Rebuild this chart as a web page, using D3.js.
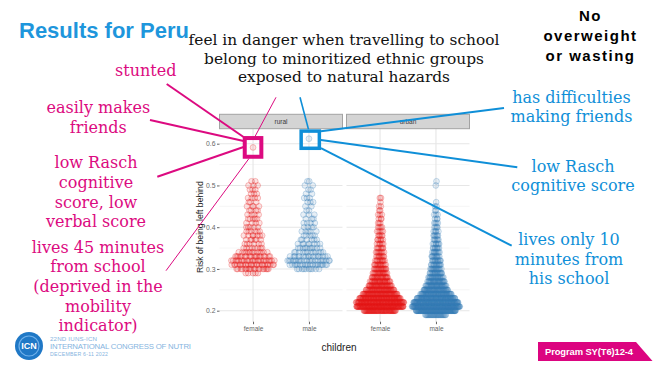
<!DOCTYPE html>
<html>
<head>
<meta charset="utf-8">
<script src="https://cdn.jsdelivr.net/npm/d3@7"></script>
<style>
  body { margin: 0; background: #fff; }
  svg { display: block; }
</style>
</head>
<body>
<div id="chart"></div>
<script>
// ================== DATA ==================
const facets = ["rural", "urban"];
const sexes = ["female", "male"];
const yTicks = [0.2, 0.3, 0.4, 0.5, 0.6];

// counts of children per 0.01 bin of "risk of being left behind"
const ruralFemaleStart = 0.29;
const ruralFemaleCounts = [5, 18, 24, 24, 18, 13, 8, 6, 6, 7, 6, 5, 4, 5, 4, 4, 4, 3, 4, 3, 3, 3, 2];
const ruralMaleStart = 0.30;
const ruralMaleCounts = [10, 20, 22, 16, 12, 10, 8, 6, 5, 5, 4, 4, 3, 3, 2, 2, 3, 3, 2, 2, 2, 2];
const urbanFemaleStart = 0.20;
const urbanFemaleCounts = [60, 110, 100, 80, 60, 45, 35, 28, 22, 18, 15, 13, 11, 9, 8, 7, 6, 6, 5, 5, 4, 3, 3, 3, 2, 2, 1, 2];
const urbanMaleStart = 0.19;
const urbanMaleCounts = [30, 100, 130, 110, 85, 60, 45, 35, 28, 22, 18, 15, 13, 12, 10, 9, 8, 7, 6, 6, 5, 4, 4, 3, 3, 2, 2, 1, 0, 0, 0, 1, 1];

// the two highlighted children
const highlightFacets = ["rural", "rural"];
const highlightSexes = ["female", "male"];
const highlightValues = [0.591, 0.612];

// annotation texts
const titleText = "Results for Peru";
const topNote = ["feel in danger when travelling to school", "belong to minoritized ethnic groups", "exposed to natural hazards"];
const cornerNote = ["No", "overweight", "or wasting"];
const girlNotes = [["stunted"], ["easily makes", "friends"], ["low Rasch", "cognitive", "score, low", "verbal score"],
  ["lives 45 minutes", "from school", "(deprived in the", "mobility", "indicator)"]];
const boyNotes = [["has difficulties", "making friends"], ["low Rasch", "cognitive score"], ["lives only 10", "minutes from", "his school"]];

// ================== SETUP ==================
const W = 666, H = 375;
const red = "#e41a1c", blue = "#377eb8";
const magenta = "#dc0a80", cyan = "#0f8fd8";

const svg = d3.select("#chart").append("svg")
  .attr("width", W).attr("height", H)
  .style("font-family", "'Liberation Sans', Arial, sans-serif");

const panelTop = 128.7, panelBottom = 321.7;
const yScale = d3.scaleLinear().domain([0.2, 0.6]).range([310.7, 143.7]);
const facetScale = d3.scaleBand().domain(facets).range([219.5, 469.5]).paddingInner(0.0315);
const xScale = d3.scalePoint().domain(sexes).range([0, facetScale.bandwidth()]).padding(0.6);
const bw = facetScale.bandwidth();

// ================== PANELS ==================
const minorTicks = yScale.ticks(8);

facets.forEach(f => {
  const g = svg.append("g").attr("transform", `translate(${facetScale(f)},0)`);
  g.append("rect").attr("x", 0).attr("y", panelTop).attr("width", bw)
    .attr("height", panelBottom - panelTop).attr("fill", "#fff");

  g.selectAll(".grid-h").data(minorTicks).enter().append("line")
    .attr("x1", 0).attr("x2", bw)
    .attr("y1", d => yScale(d)).attr("y2", d => yScale(d))
    .attr("stroke", d => yTicks.some(t => Math.abs(t - d) < 1e-9) ? "#e6e6e6" : "#f0f0f0")
    .attr("stroke-width", d => yTicks.some(t => Math.abs(t - d) < 1e-9) ? 1.1 : 0.7);

  g.selectAll(".grid-v").data(sexes).enter().append("line")
    .attr("x1", d => xScale(d)).attr("x2", d => xScale(d))
    .attr("y1", panelTop).attr("y2", panelBottom)
    .attr("stroke", "#e6e6e6").attr("stroke-width", 1.1);

  // strip
  g.append("rect").attr("x", 0).attr("y", 114.3).attr("width", bw).attr("height", 14.4)
    .attr("fill", "#d4d4d4").attr("stroke", "#a3a3a3").attr("stroke-width", 1);
  g.append("text").attr("x", bw / 2).attr("y", 123.8).attr("text-anchor", "middle")
    .attr("font-size", 6.5).attr("fill", "#3a3a3a").text(f);

  // x axis
  const xa = g.append("g").attr("transform", `translate(0,${panelBottom})`)
    .call(d3.axisBottom(xScale).tickSize(2.5).tickPadding(2.5));
  xa.select(".domain").remove();
  xa.selectAll("line").attr("stroke", "#666");
  xa.selectAll("text").attr("font-size", 6.5).attr("fill", "#666")
    .style("font-family", "'Liberation Sans', Arial, sans-serif");
});

// y axis
const ya = svg.append("g").attr("transform", `translate(${facetScale("rural")},0)`)
  .call(d3.axisLeft(yScale).tickValues(yTicks).tickFormat(d3.format(".1f")).tickSize(2.5).tickPadding(1.5));
ya.select(".domain").remove();
ya.selectAll("line").attr("stroke", "#666");
ya.selectAll("text").attr("font-size", 6.8).attr("fill", "#666")
  .style("font-family", "'Liberation Sans', Arial, sans-serif");

svg.append("text")
  .attr("transform", `translate(202.5,${(panelTop + panelBottom) / 2 + 2}) rotate(-90)`)
  .attr("text-anchor", "middle").attr("font-size", 8.6).attr("fill", "#222")
  .text("Risk of being left behind");

svg.append("text").attr("x", 339).attr("y", 350.5).attr("text-anchor", "middle")
  .attr("font-size", 10).attr("fill", "#222").text("children");

// ================== POINTS (quasirandom layout) ==================
function vdc(n) {
  let v = 0, denom = 1;
  while (n > 0) { denom *= 2; v += (n % 2) / denom; n = Math.floor(n / 2); }
  return v;
}

function layout(start, counts, maxHalf) {
  const dens = counts.map((c, i) => ((counts[i - 1] || 0) + 2 * c + (counts[i + 1] || 0)) / 4);
  const dMax = d3.max(dens);
  const pts = [];
  let k = 1;
  counts.forEach((c, i) => {
    const value = +(start + i * 0.01).toFixed(3);
    const half = maxHalf * Math.pow(dens[i] / dMax, 0.7);
    for (let j = 0; j < c; j++) {
      pts.push({ value, dx: (vdc(k) - 0.5) * 2 * half });
      k++;
    }
  });
  return pts;
}

const groups = [
  { facet: "rural", sex: "female", color: red, pts: layout(ruralFemaleStart, ruralFemaleCounts, 22) },
  { facet: "rural", sex: "male", color: blue, pts: layout(ruralMaleStart, ruralMaleCounts, 22) },
  { facet: "urban", sex: "female", color: red, pts: layout(urbanFemaleStart, urbanFemaleCounts, 24) },
  { facet: "urban", sex: "male", color: blue, pts: layout(urbanMaleStart, urbanMaleCounts, 24) }
];

highlightValues.forEach((v, i) => {
  groups.push({ facet: highlightFacets[i], sex: highlightSexes[i], color: i === 0 ? red : blue,
    pts: [{ value: v, dx: 0 }] });
});

groups.forEach(gr => {
  const cx = facetScale(gr.facet) + xScale(gr.sex);
  svg.append("g").selectAll("circle").data(gr.pts).enter().append("circle")
    .attr("cx", d => cx + d.dx)
    .attr("cy", d => yScale(d.value))
    .attr("r", 2.9)
    .attr("fill", gr.color).attr("fill-opacity", 0.12)
    .attr("stroke", gr.color).attr("stroke-opacity", 0.38).attr("stroke-width", 0.7);
});

// ================== HIGHLIGHT BOXES + CONNECTORS ==================
const gx = facetScale(highlightFacets[0]) + xScale(highlightSexes[0]);
const gy = yScale(highlightValues[0]);
const bx = facetScale(highlightFacets[1]) + xScale(highlightSexes[1]);
const by = yScale(highlightValues[1]);

const girlLines = [
  [166.7, 84, gx - 9.5, gy - 10.5, 2],
  [150, 120, gx - 9.5, gy - 6.5, 2],
  [157.3, 176.7, gx - 9.5, gy - 0.5, 2],
  [166, 270.7, gx - 4, gy + 11, 1],
  [276, 97.3, gx + 2, gy - 11, 1]
];
const boyLines = [
  [300, 97.3, bx - 0.5, by - 9.5, 1.6],
  [bx + 12, by - 7.5, 504, 108, 2],
  [bx + 12, by + 1.3, 517.3, 167.3, 2],
  [bx + 12, by + 9.5, 511.7, 245.7, 2]
];

svg.append("g").selectAll("line").data(girlLines).enter().append("line")
  .attr("x1", d => d[0]).attr("y1", d => d[1]).attr("x2", d => d[2]).attr("y2", d => d[3])
  .attr("stroke", magenta).attr("stroke-width", d => d[4]);
svg.append("g").selectAll("line").data(boyLines).enter().append("line")
  .attr("x1", d => d[0]).attr("y1", d => d[1]).attr("x2", d => d[2]).attr("y2", d => d[3])
  .attr("stroke", cyan).attr("stroke-width", d => d[4]);

svg.append("rect").attr("x", gx - 8.3).attr("y", gy - 9.4).attr("width", 16.6).attr("height", 18.7)
  .attr("fill", "none").attr("stroke", magenta).attr("stroke-width", 4);
svg.append("rect").attr("x", bx - 7.8).attr("y", by - 7.6).attr("width", 18.2).attr("height", 17.2)
  .attr("fill", "none").attr("stroke", cyan).attr("stroke-width", 3.5);

// ================== TEXTS ==================
function block(lines, x, y0, lh, size, color, family, extra) {
  const t = svg.append("text").attr("text-anchor", "middle")
    .attr("font-size", size).attr("fill", color).style("font-family", family);
  if (extra) extra(t);
  lines.forEach((l, i) => t.append("tspan").attr("x", x).attr("y", y0 + i * lh).text(l));
  return t;
}

const serif = "'DejaVu Serif', serif";

svg.append("text").attr("x", 19).attr("y", 38).attr("font-size", 22).attr("font-weight", "bold")
  .attr("fill", "#1e96dc").text(titleText);

block(topNote, 344, 45, 18.5, 15.4, "#111", serif);
block(cornerNote, 590.5, 20.7, 20.2, 15, "#000", "'Liberation Sans', Arial, sans-serif",
  t => t.attr("font-weight", "bold").attr("letter-spacing", 1.5));

block(girlNotes[0], 145.7, 76, 20, 16, magenta, serif);
block(girlNotes[1], 98.3, 113, 20, 16, magenta, serif);
block(girlNotes[2], 96, 168, 19.8, 16, magenta, serif);
block(girlNotes[3], 98, 252.5, 19.7, 16, magenta, serif);

block(boyNotes[0], 571.5, 103, 18.8, 16, cyan, serif);
block(boyNotes[1], 573, 172, 19, 16, cyan, serif);
block(boyNotes[2], 569, 245, 19.5, 16, cyan, serif);

// ================== FOOTER ==================
svg.append("path").attr("d", "M538,342 L636,342 L652.5,361 L538,361 Z").attr("fill", "#dc0480");
svg.append("text").attr("x", 545).attr("y", 354.6).attr("font-size", 9.4).attr("font-weight", "bold")
  .attr("fill", "#fff").attr("textLength", 88).text("Program SY(T6)12-4");

svg.append("circle").attr("cx", 29).attr("cy", 346).attr("r", 14).attr("fill", "#1f78c6");
svg.append("circle").attr("cx", 29).attr("cy", 346).attr("r", 10).attr("fill", "none")
  .attr("stroke", "#6fb0ea").attr("stroke-width", 1.2);
svg.append("text").attr("x", 29).attr("y", 349).attr("text-anchor", "middle").attr("font-size", 9)
  .attr("font-weight", "bold").attr("fill", "#fff").text("ICN");

svg.append("text").attr("x", 50).attr("y", 341.2).attr("font-size", 6.2).attr("fill", "#86b4e0")
  .attr("textLength", 47).text("22ND IUNS-ICN");
svg.append("text").attr("x", 50).attr("y", 349).attr("font-size", 7.8).attr("fill", "#86b4e0")
  .attr("textLength", 141).text("INTERNATIONAL CONGRESS OF NUTRI");
svg.append("text").attr("x", 50).attr("y", 356.3).attr("font-size", 5.2).attr("fill", "#86b4e0")
  .attr("textLength", 58).text("DECEMBER 6-11 2022");
</script>
</body>
</html>
